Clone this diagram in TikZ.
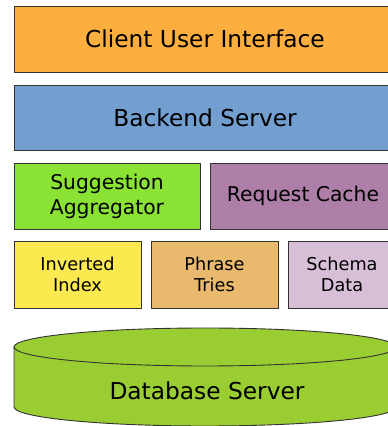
\documentclass[tikz,border=0pt]{standalone}
\usepackage{fontspec}
\setmainfont{DejaVu Sans}
\usepackage{tikz}

\definecolor{uiorange}{HTML}{FCAF3E}
\definecolor{serverblue}{HTML}{729FCF}
\definecolor{aggrgreen}{HTML}{8AE234}
\definecolor{cacheplum}{HTML}{AD7FA8}
\definecolor{indexyellow}{HTML}{FCE94F}
\definecolor{triestan}{HTML}{E9B96E}
\definecolor{schemalilac}{HTML}{D8BFD8}
\definecolor{dbgreen}{HTML}{9ACD32}

\tikzset{layer/.style={draw=black!80, line width=0.9pt, inner sep=0pt, align=center, minimum height=66pt},
         bigtext/.style={font=\fontsize{23.3}{28}\selectfont},
         midtext/.style={font=\fontsize{20.3}{25}\selectfont},
         smalltext/.style={font=\fontsize{17.7}{21.5}\selectfont}}

\begin{document}
\begin{tikzpicture}[x=1pt, y=1pt]
    \useasboundingbox (0,0) rectangle (388,426);
    \clip (0,0) rectangle (388,426);
    % top two layers span the full width
    \node[layer, bigtext, fill=uiorange, minimum width=382pt] (ui) at (205,387) {Client User Interface};
    \node[layer, bigtext, fill=serverblue, minimum width=382pt, minimum height=65pt] (backend) at (205,308.5) {Backend Server};
    % middle row
    \node[layer, midtext, fill=aggrgreen, minimum width=186pt] (aggr) at (107,230) {Suggestion\\Aggregator};
    \node[layer, midtext, fill=cacheplum, minimum width=186pt] (cache) at (303,230) {Request Cache};
    % data structures
    \node[layer, smalltext, fill=indexyellow, minimum width=127pt, minimum height=67pt] (index) at (77.5,151.5) {Inverted\\Index};
    \node[layer, smalltext, fill=triestan, minimum width=127pt, minimum height=67pt] (tries) at (214.5,151.5) {Phrase\\Tries};
    \node[layer, smalltext, fill=schemalilac, minimum width=108pt, minimum height=67pt] (schema) at (342,151.5) {Schema\\Data};
    % database cylinder
    \filldraw[fill=dbgreen, draw=black!80, line width=0.9pt] (14,79) -- (14,19)
        arc[start angle=180, end angle=360, x radius=191pt, y radius=19pt] -- (396,79)
        arc[start angle=0, end angle=180, x radius=191pt, y radius=19pt] -- cycle;
    \draw[black!80, line width=0.9pt] (14,79) arc[start angle=180, end angle=360, x radius=191pt, y radius=19pt];
    \node[bigtext, anchor=base] (db) at (207,26) {Database Server};
\end{tikzpicture}
\end{document}
